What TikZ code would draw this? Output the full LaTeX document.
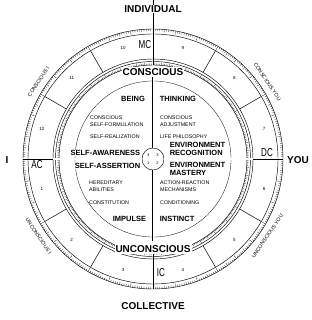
\documentclass[tikz,border=0pt]{standalone}
\usepackage{fontspec}
\setmainfont{Liberation Sans}
\setsansfont{Liberation Sans}
\usetikzlibrary{positioning}

\begin{document}
\begin{tikzpicture}[
  x=1pt, y=1pt,
  font=\sffamily,
  side/.style={font=\sffamily\bfseries\fontsize{10}{11}\selectfont, inner sep=1pt, fill=white},
  zone/.style={font=\sffamily\bfseries\fontsize{10}{11}\selectfont, inner sep=1pt, fill=white},
  quad/.style={font=\sffamily\bfseries\fontsize{7.5}{7.6}\selectfont, align=left, inner sep=.6pt, fill=white},
  note/.style={font=\sffamily\fontsize{5.3}{6.8}\selectfont, align=left, anchor=west, inner sep=0pt},
  housenum/.style={font=\sffamily\fontsize{4.5}{5}\selectfont, inner sep=0pt},
  hubnum/.style={font=\sffamily\fontsize{4}{4}\selectfont, inner sep=0pt},
  cardinal/.style={font=\sffamily\fontsize{11.5}{11.5}\selectfont, inner sep=0pt},
  rim/.style={font=\sffamily\fontsize{5.2}{6}\selectfont, inner sep=0pt},
  ring/.style={line width=.45pt},
  tick/.style={line width=.25pt},
  cusp/.style={line width=.5pt},
  axis/.style={line width=.9pt},
  twin/.style={double, double distance=1.4pt, line width=.4pt}
]
\useasboundingbox (0,0) rectangle (312,320);
\begin{scope}[shift={(153,161)}]
% rings
\draw[ring] (0,0) circle[radius=130] circle[radius=125]
  circle[radius=100] circle[radius=97.5] circle[radius=94];
\draw[line width=.3pt] (0,0) circle[radius=78];
% degree scales
\foreach \a in {0,...,359}{
  \pgfmathsetmacro{\ticklen}{mod(\a,10)==0 ? 4 : (mod(\a,5)==0 ? 3 : 2)}
  \pgfmathsetmacro{\rout}{130-\ticklen}
  \pgfmathsetmacro{\rin}{94+0.8*\ticklen}
  \draw[tick] (\a:130) -- (\a:\rout);
  \draw[tick] (\a:94) -- (\a:\rin);
}
% house cusps
\foreach \a in {30,60,120,150,210,240,300,330}
  \draw[cusp] (\a:100) -- (\a:125);

% centre
\node[circle, draw, ring, fill=white, minimum size=22pt, inner sep=0pt] (hub) at (0,0) {};
\node[hubnum] (q4) at (-4.5,4) {4};
\node[hubnum] (q3) at (4.5,4) {3};
\node[hubnum] (q1) at (-4.5,-4) {1};
\node[hubnum] (q2) at (4.5,-4) {2};

% axes
\coordinate (mcin) at (90:82);
\coordinate (icin) at (270:82);
\coordinate (acin) at (180:100);
\coordinate (dcin) at (0:100);
\draw[axis] (90:94) -- (0,159);
\draw[axis] (270:94) -- (270:130);
\draw[axis] (180:130) -- (acin);
\draw[axis] (0:130) -- (dcin);
\draw[twin, double distance=.8pt] (hub.north) -- (mcin);
\draw[twin, double distance=.8pt] (hub.south) -- (icin);
\draw[twin] (hub.west) -- (acin);
\draw[twin] (hub.east) -- (dcin);

% outer labels
\node[side] (individual) at (0,150) {INDIVIDUAL};
\node[side] (collective) at (0,-147) {COLLECTIVE};
\node[side] (ego) at (-146,-1) {I};
\node[side] (you) at (145,-1) {YOU};

\node[rim, rotate=56] (consi) at (146:138) {CONSCIOUS I};
\node[rim, rotate=-56] (consyou) at (34:138) {CONSCIOUS YOU};
\node[rim, rotate=-56] (uncofi) at (214:138) {UNCONSCIOUS I};
\node[rim, rotate=56] (uncofyou) at (326:138) {UNCONSCIOUS YOU};

% angles
\node[cardinal] (mc) at (-8,114) {\scalebox{.7}[1]{MC}};
\node[cardinal] (dc) at (114,6) {\scalebox{.7}[1]{DC}};
\node[cardinal] (ac) at (-116,-6) {\scalebox{.7}[1]{AC}};
\node[cardinal] (ic) at (8,-114) {\scalebox{.7}[1]{IC}};

% houses
\foreach \n/\a in {1/195,2/225,3/255,4/285,5/315,6/345,7/15,8/45,9/75,10/105,11/135,12/165}
  \node[housenum] (house\n) at (\a:115) {\n};

% levels
\node[zone] (conscious) at (0,87) {CONSCIOUS};
\node[zone] (unconscious) at (0,-90) {UNCONSCIOUS};

% upper left
\node[quad, fill=none] (being) at (-20,60) {BEING};
\node[note] (selfform) at (-63,37.5) {CONSCIOUS\\SELF-FORMULATION};
\node[note] (selfreal) at (-63,22) {SELF-REALIZATION};
\node[quad, anchor=east] (awareness) at (-12,6) {SELF-AWARENESS};
% upper right
\node[quad, fill=none, anchor=west] (thinking) at (6,60) {THINKING};
\node[note] (adjust) at (7,37.5) {CONSCIOUS\\ADJUSTMENT};
\node[note] (lifephil) at (7,22) {LIFE PHILOSOPHY};
\node[quad, anchor=west] (recognition) at (16,10) {ENVIRONMENT\\RECOGNITION};
% lower left
\node[quad, anchor=east] (assertion) at (-12,-7) {SELF-ASSERTION};
\node[note] (hered) at (-64,-27) {HEREDITARY\\ABILITIES};
\node[note] (constit) at (-64,-44) {CONSTITUTION};
\node[quad, fill=none] (impulse) at (-23.5,-60) {IMPULSE};
% lower right
\node[quad, anchor=west] (mastery) at (16,-10) {ENVIRONMENT\\MASTERY};
\node[note] (actreact) at (7,-27.5) {ACTION-REACTION\\MECHANISMS};
\node[note] (condit) at (7,-44) {CONDITIONING};
\node[quad, fill=none, anchor=west] (instinct) at (6,-60) {INSTINCT};
\end{scope}
\end{tikzpicture}
\end{document}
